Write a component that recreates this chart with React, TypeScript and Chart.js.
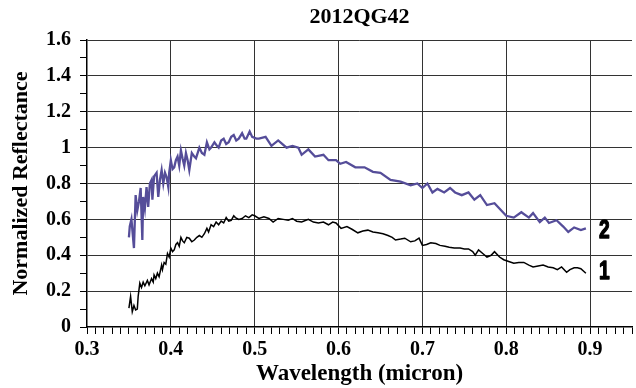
import React, { useEffect, useRef } from "react";
import { Chart, registerables } from "chart.js";

Chart.register(...registerables);

const chartTitle = "2012QG42";
const xAxisTitle = "Wavelength (micron)";
const yAxisTitle = "Normalized Reflectance";

const xMin = 0.3;
const xMax = 0.95;
const yMin = 0;
const yMax = 1.6;

// Spectrum 2 (purple)
const wl2 = [
  0.350, 0.351, 0.353, 0.356, 0.358, 0.360, 0.362, 0.364, 0.366, 0.367, 0.369, 0.371, 0.373,
  0.375, 0.377, 0.378, 0.380, 0.383, 0.385, 0.387, 0.389, 0.391, 0.393, 0.395, 0.397, 0.398,
  0.400, 0.402, 0.404, 0.406, 0.408, 0.410, 0.412, 0.414, 0.416, 0.418, 0.420, 0.422, 0.425,
  0.428, 0.430, 0.434, 0.437, 0.440, 0.443, 0.446, 0.448, 0.452, 0.455, 0.457, 0.460, 0.463,
  0.466, 0.469, 0.472, 0.475, 0.478, 0.481, 0.485, 0.488, 0.490, 0.494, 0.497, 0.502, 0.505,
  0.513, 0.520, 0.528, 0.538, 0.545, 0.552, 0.556, 0.564,
  0.572, 0.582, 0.588, 0.597, 0.602, 0.609, 0.620, 0.631, 0.641, 0.650, 0.662, 0.674, 0.686,
  0.694, 0.700, 0.706, 0.712, 0.718, 0.726, 0.733, 0.739, 0.747, 0.755, 0.762, 0.769, 0.777,
  0.786, 0.800, 0.809, 0.818, 0.827, 0.832, 0.840, 0.846, 0.851, 0.860, 0.868, 0.874, 0.881,
  0.889, 0.895,
];
const refl2 = [
  0.50, 0.56, 0.60, 0.44, 0.735, 0.65, 0.70, 0.775, 0.485, 0.725, 0.66, 0.78, 0.67,
  0.80, 0.82, 0.71, 0.84, 0.86, 0.725, 0.82, 0.875, 0.80, 0.86, 0.835, 0.78, 0.86,
  0.93, 0.88, 0.89, 0.93, 0.95, 0.90, 0.985, 0.94, 0.90, 0.97, 0.93, 0.875, 0.97,
  0.95, 0.94, 1.00, 0.97, 0.96, 1.03, 0.99, 1.00, 1.03, 1.01, 1.00, 1.04, 1.05,
  1.02, 1.03, 1.06, 1.07, 1.04, 1.05, 1.08, 1.05, 1.05, 1.09, 1.06, 1.05, 1.05,
  1.06, 1.01, 1.04, 1.00, 1.01, 1.00, 0.96, 0.99,
  0.95, 0.96, 0.93, 0.93, 0.91, 0.92, 0.89, 0.89, 0.865, 0.86, 0.82, 0.81, 0.79,
  0.80, 0.775, 0.80, 0.75, 0.77, 0.75, 0.775, 0.75, 0.735, 0.75, 0.71, 0.735, 0.68,
  0.69, 0.62, 0.61, 0.64, 0.61, 0.635, 0.585, 0.61, 0.58, 0.595, 0.56, 0.53, 0.555,
  0.54, 0.55,
];

// Spectrum 1 (black)
const wl1 = [
  0.350, 0.352, 0.354, 0.356, 0.358, 0.360, 0.361, 0.363, 0.365, 0.367, 0.369, 0.372, 0.374,
  0.377, 0.379, 0.380, 0.382, 0.384, 0.386, 0.389, 0.390, 0.392, 0.394, 0.396, 0.398, 0.400,
  0.402, 0.404, 0.406, 0.408, 0.410, 0.412, 0.414, 0.416, 0.419, 0.422, 0.425, 0.428, 0.431,
  0.434, 0.437, 0.440, 0.443, 0.445, 0.448, 0.451, 0.454, 0.457, 0.460, 0.463, 0.466, 0.469,
  0.472, 0.475, 0.477, 0.481, 0.485, 0.489, 0.493, 0.497, 0.500, 0.505, 0.511, 0.517, 0.522,
  0.528, 0.534, 0.540, 0.545, 0.550, 0.556, 0.564, 0.570, 0.576, 0.582, 0.588, 0.593, 0.597,
  0.603, 0.610, 0.616, 0.623, 0.629, 0.635, 0.641, 0.647, 0.653, 0.659, 0.664, 0.668, 0.674,
  0.679, 0.686, 0.691, 0.696, 0.700, 0.705, 0.710, 0.716, 0.721, 0.727, 0.732, 0.738, 0.745,
  0.750, 0.755, 0.760, 0.763, 0.767, 0.772, 0.777, 0.782, 0.786, 0.792, 0.797, 0.803, 0.809,
  0.815, 0.821, 0.827, 0.832, 0.838, 0.844, 0.850, 0.856, 0.861, 0.866, 0.872, 0.876, 0.881,
  0.885, 0.889, 0.895,
];
const refl1 = [
  0.105, 0.17, 0.085, 0.12, 0.095, 0.10, 0.17, 0.245, 0.22, 0.25, 0.23, 0.26, 0.235,
  0.27, 0.25, 0.29, 0.27, 0.30, 0.28, 0.345, 0.32, 0.36, 0.35, 0.41, 0.39, 0.44,
  0.42, 0.43, 0.46, 0.47, 0.45, 0.50, 0.48, 0.47, 0.50, 0.495, 0.475, 0.485, 0.50,
  0.51, 0.50, 0.52, 0.55, 0.53, 0.57, 0.56, 0.585, 0.57, 0.59, 0.58, 0.61, 0.59,
  0.595, 0.62, 0.61, 0.60, 0.605, 0.62, 0.61, 0.625, 0.62, 0.605, 0.615, 0.605, 0.585,
  0.605, 0.60, 0.595, 0.605, 0.59, 0.585, 0.60, 0.585, 0.58, 0.585, 0.57, 0.585, 0.58,
  0.55, 0.56, 0.545, 0.525, 0.535, 0.54, 0.53, 0.525, 0.52, 0.51, 0.50, 0.485, 0.49,
  0.495, 0.475, 0.48, 0.495, 0.455, 0.46, 0.47, 0.465, 0.455, 0.45, 0.445, 0.44, 0.44,
  0.435, 0.435, 0.42, 0.40, 0.43, 0.41, 0.39, 0.40, 0.42, 0.39, 0.375, 0.365, 0.355,
  0.36, 0.36, 0.345, 0.335, 0.34, 0.345, 0.335, 0.33, 0.32, 0.335, 0.305, 0.32, 0.33,
  0.33, 0.325, 0.30,
];

// Curve labels at the right end (data coordinates)
const curveLabels = ["2", "1"];
const curveLabelX = [0.917, 0.917];
const curveLabelY = [0.535, 0.31];

const serif = '"Liberation Serif", "Times New Roman", serif';
const isMajor = (v: number, step: number) => Math.abs(v / step - Math.round(v / step)) < 1e-6;

const curveLabelPlugin = {
  id: "curveLabels",
  afterDatasetsDraw(chart: any) {
    const { ctx, scales } = chart;
    curveLabels.forEach((t, i) => {
      ctx.save();
      ctx.fillStyle = "#000";
      ctx.strokeStyle = "#000";
      ctx.lineWidth = 1.3;
      ctx.lineJoin = "round";
      ctx.font = 'bold 26px "Liberation Sans", Arial, sans-serif';
      ctx.textAlign = "center";
      ctx.textBaseline = "middle";
      ctx.translate(scales.x.getPixelForValue(curveLabelX[i]), scales.y.getPixelForValue(curveLabelY[i]));
      ctx.scale(0.74, 1);
      ctx.fillText(t, 0, 0);
      ctx.strokeText(t, 0, 0);
      ctx.restore();
    });
  },
};

export default function App() {
  const ref = useRef<HTMLCanvasElement | null>(null);
  useEffect(() => {
    if (!ref.current) return;
    const chart = new Chart(ref.current, {
      type: "line",
      data: {
        datasets: [
          {
            label: "2",
            data: wl2.map((x, i) => ({ x, y: refl2[i] })),
            borderColor: "#554d99",
            borderWidth: 2.3,
            pointRadius: 0,
            tension: 0,
            fill: false,
          },
          {
            label: "1",
            data: wl1.map((x, i) => ({ x, y: refl1[i] })),
            borderColor: "#000000",
            borderWidth: 1.5,
            pointRadius: 0,
            tension: 0,
            fill: false,
          },
        ],
      },
      options: {
        responsive: false,
        maintainAspectRatio: false,
        animation: false,
        layout: { padding: 0 },
        plugins: {
          legend: { display: false },
          tooltip: { enabled: false },
          title: {
            display: true,
            fullSize: false,
            text: chartTitle,
            color: "#000",
            font: { family: serif, size: 22, weight: "bold" },
            padding: { top: 4, bottom: 9.6 },
          },
        },
        scales: {
          x: {
            type: "linear",
            min: xMin,
            max: xMax,
            afterFit: (s: any) => {
              s.height = 61;
            },
            afterBuildTicks: (s: any) => {
              const t = [];
              for (let i = 30; i <= 95; i++) t.push({ value: i / 100 });
              s.ticks = t;
            },
            ticks: {
              autoSkip: false,
              maxRotation: 0,
              minRotation: 0,
              padding: 4,
              color: "#000",
              font: { family: serif, size: 20, weight: "bold" },
              callback: (v: any) => (isMajor(Number(v), 0.1) && Number(v) < 0.95 ? Number(v).toFixed(1) : ""),
            },
            grid: {
              color: (c: any) =>
                c.tick && isMajor(c.tick.value, 0.1) && c.tick.value > 0.31 ? "#333" : "rgba(0,0,0,0)",
              tickColor: "#000",
              tickLength: 7,
              lineWidth: 1,
            },
            border: { display: true, color: "#000", width: 1.5 },
            title: {
              display: true,
              text: xAxisTitle,
              color: "#000",
              font: { family: serif, size: 23, weight: "bold" },
              padding: { top: 0, bottom: 0 },
            },
          },
          y: {
            type: "linear",
            min: yMin,
            max: yMax,
            afterFit: (s: any) => {
              s.width = 87;
            },
            afterBuildTicks: (s: any) => {
              const t = [];
              for (let i = 0; i <= 16; i++) t.push({ value: i / 10 });
              s.ticks = t;
            },
            ticks: {
              autoSkip: false,
              padding: 9,
              color: "#000",
              font: { family: serif, size: 20, weight: "bold" },
              callback: (v: any) => (isMajor(Number(v), 0.2) ? String(Math.round(Number(v) * 10) / 10) : ""),
            },
            grid: {
              color: (c: any) =>
                c.tick && isMajor(c.tick.value, 0.2) && c.tick.value > 0.01 ? "#333" : "rgba(0,0,0,0)",
              tickColor: "#000",
              tickLength: 7,
              lineWidth: 1,
            },
            border: { display: true, color: "#000", width: 1.5 },
            title: {
              display: true,
              text: yAxisTitle,
              color: "#000",
              font: { family: serif, size: 22, weight: "bold" },
              padding: { top: 8, bottom: 0 },
            },
          },
        },
      },
      plugins: [curveLabelPlugin],
    } as any);
    return () => chart.destroy();
  }, []);
  return (
    <div style={{ position: "fixed", left: 0, top: 0, width: 636, height: 388, background: "#fff" }}>
      <canvas ref={ref} width={636} height={388} style={{ display: "block" }} />
    </div>
  );
}
